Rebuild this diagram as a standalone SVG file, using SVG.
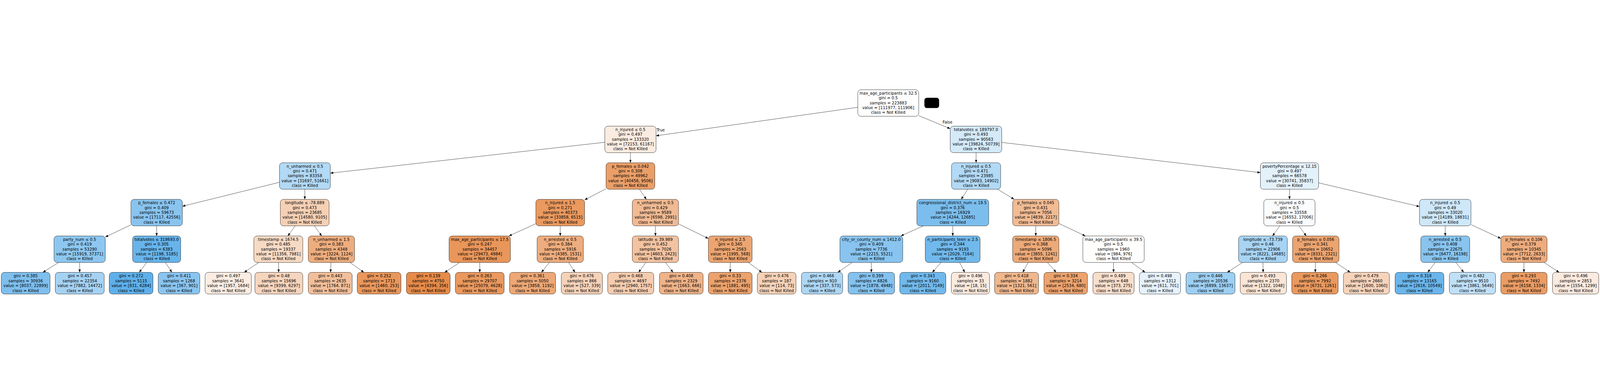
<svg xmlns="http://www.w3.org/2000/svg" width="7614" height="982" viewBox="0 0 7614 982">
<style>
svg{width:100vw;height:100vh}
.n rect{stroke:#000;stroke-width:1.33}
text{font-family:"DejaVu Sans","Liberation Sans",sans-serif;font-size:18.67px;fill:#000;text-anchor:middle}
.e path{stroke:#000;stroke-width:1.33;fill:none;marker-end:url(#ah)}
</style>
<defs>
<marker id="ah" markerUnits="userSpaceOnUse" markerWidth="14" markerHeight="11" refX="14" refY="5.5" orient="auto"><path d="M0,0 L14,5.5 L0,11 z" fill="#000"/></marker>
</defs>
<rect width="7614" height="982" fill="#fff"/>
<g id="connectors" class="e">
<path d="M4082,88.4 L3122,223.8"/>
<path d="M4372,128.1 L4522,190.2"/>
<path d="M2878,254.7 L1572,401.4"/>
<path d="M3000,304 L3000,352"/>
<path d="M4645,304 L4645,352"/>
<path d="M4767,255.3 L5998,398.8"/>
<path d="M1330,444.8 L868,558.8"/>
<path d="M1450.5,478 L1450.5,526"/>
<path d="M2884,475.4 L2782,528.6"/>
<path d="M3043.1,478 L3075.9,526"/>
<path d="M4604.8,478 L4574.2,526"/>
<path d="M4747.8,478 L4826.2,526"/>
<path d="M6136.5,478 L6136.5,526"/>
<path d="M6275,447.5 L6755,560.2"/>
<path d="M623,647.2 L501,705.1"/>
<path d="M745.5,652 L745.5,700"/>
<path d="M1404.6,652 L1369.9,700"/>
<path d="M1496,652 L1531,700"/>
<path d="M2550,641.7 L2421.7,700"/>
<path d="M2666,652 L2666,700"/>
<path d="M3119,652 L3119,700"/>
<path d="M3229,642.8 L3371,712.2"/>
<path d="M4393.7,652 L4286.8,700"/>
<path d="M4534,652 L4534,700"/>
<path d="M4929,652 L4929,700"/>
<path d="M5039,640.7 L5165,700"/>
<path d="M6090.4,652 L6055.6,700"/>
<path d="M6181.4,652 L6216.1,700"/>
<path d="M6877.5,652 L6877.5,700"/>
<path d="M7000,645.9 L7142,711.9"/>
<path d="M278.7,826 L204,873"/>
<path d="M379,826 L379,873"/>
<path d="M698.1,826 L662.7,873"/>
<path d="M787,826 L818,873"/>
<path d="M1231.5,826 L1162,873"/>
<path d="M1325.5,826 L1326,873"/>
<path d="M1574.9,826 L1573.2,873"/>
<path d="M1665.6,826 L1731.6,873"/>
<path d="M2187.4,826 L2116.1,873"/>
<path d="M2283,826 L2283,873"/>
<path d="M2614.7,826 L2576.4,873"/>
<path d="M2706.2,826 L2736.2,873"/>
<path d="M3073.2,826 L3039,873"/>
<path d="M3167,826 L3202.8,873"/>
<path d="M3475,826 L3475,873"/>
<path d="M3561.2,826 L3625.5,873"/>
<path d="M4055,826 L3986.8,873"/>
<path d="M4146.5,826 L4146.5,873"/>
<path d="M4478.1,826 L4436.8,873"/>
<path d="M4566.5,826 L4591.1,873"/>
<path d="M4893.3,826 L4866.7,873"/>
<path d="M4984.6,826 L5026.1,873"/>
<path d="M5299,826 L5299,873"/>
<path d="M5385.2,826 L5449.5,873"/>
<path d="M5912.7,826 L5840.1,873"/>
<path d="M6010,826 L6011,873"/>
<path d="M6260,826 L6259,873"/>
<path d="M6355.5,826 L6425.6,873"/>
<path d="M6829.7,826 L6794.1,873"/>
<path d="M6928,826 L6965.7,873"/>
<path d="M7252,826 L7252,873"/>
<path d="M7348,826 L7419.6,873"/>
<text x="3144" y="203">True</text>
<text x="4509" y="166">False</text>
</g>
<rect x="4399" y="43" width="70" height="49" rx="12" fill="#000"/>

<g id="n0" class="n"><rect x="4082" y="5" width="290" height="126" rx="15" fill="#ffffff"/><text x="4227" y="28"><tspan x="4227">max_age_participants ≤ 32.5</tspan><tspan x="4227" dy="23">gini = 0.5</tspan><tspan x="4227" dy="23">samples = 223883</tspan><tspan x="4227" dy="23">value = [111977, 111906]</tspan><tspan x="4227" dy="23">class = Not Killed</tspan></text></g>

<g id="n1" class="n"><rect x="2878" y="178" width="244" height="126" rx="15" fill="#fbece1"/><text x="3000" y="201"><tspan x="3000">n_injured ≤ 0.5</tspan><tspan x="3000" dy="23">gini = 0.497</tspan><tspan x="3000" dy="23">samples = 133320</tspan><tspan x="3000" dy="23">value = [72153, 61167]</tspan><tspan x="3000" dy="23">class = Not Killed</tspan></text></g>
<g id="n2" class="n"><rect x="4522" y="178" width="245" height="126" rx="15" fill="#d4eaf9"/><text x="4644.5" y="201"><tspan x="4644.5">totalvotes ≤ 189797.0</tspan><tspan x="4644.5" dy="23">gini = 0.493</tspan><tspan x="4644.5" dy="23">samples = 90563</tspan><tspan x="4644.5" dy="23">value = [39824, 50739]</tspan><tspan x="4644.5" dy="23">class = Killed</tspan></text></g>

<g id="n3" class="n"><rect x="1330" y="352" width="242" height="126" rx="15" fill="#b2d9f5"/><text x="1451" y="375"><tspan x="1451">n_unharmed ≤ 0.5</tspan><tspan x="1451" dy="23">gini = 0.471</tspan><tspan x="1451" dy="23">samples = 83358</tspan><tspan x="1451" dy="23">value = [31697, 51661]</tspan><tspan x="1451" dy="23">class = Killed</tspan></text></g>
<g id="n4" class="n"><rect x="2884" y="352" width="232" height="126" rx="15" fill="#eb9f68"/><text x="3000" y="375"><tspan x="3000">p_females ≤ 0.042</tspan><tspan x="3000" dy="23">gini = 0.308</tspan><tspan x="3000" dy="23">samples = 49962</tspan><tspan x="3000" dy="23">value = [40456, 9506]</tspan><tspan x="3000" dy="23">class = Not Killed</tspan></text></g>
<g id="n5" class="n"><rect x="4528" y="352" width="234" height="126" rx="15" fill="#b2d9f5"/><text x="4645" y="375"><tspan x="4645">n_injured ≤ 0.5</tspan><tspan x="4645" dy="23">gini = 0.471</tspan><tspan x="4645" dy="23">samples = 23985</tspan><tspan x="4645" dy="23">value = [9083, 14902]</tspan><tspan x="4645" dy="23">class = Killed</tspan></text></g>
<g id="n6" class="n"><rect x="5998" y="352" width="277" height="126" rx="15" fill="#e3f1fb"/><text x="6136.5" y="375"><tspan x="6136.5">povertyPercentage ≤ 12.15</tspan><tspan x="6136.5" dy="23">gini = 0.497</tspan><tspan x="6136.5" dy="23">samples = 66578</tspan><tspan x="6136.5" dy="23">value = [30741, 35837]</tspan><tspan x="6136.5" dy="23">class = Killed</tspan></text></g>

<g id="n7" class="n"><rect x="623" y="526" width="245" height="126" rx="15" fill="#89c4ef"/><text x="745.5" y="549"><tspan x="745.5">p_females ≤ 0.472</tspan><tspan x="745.5" dy="23">gini = 0.409</tspan><tspan x="745.5" dy="23">samples = 59673</tspan><tspan x="745.5" dy="23">value = [17117, 42556]</tspan><tspan x="745.5" dy="23">class = Killed</tspan></text></g>
<g id="n8" class="n"><rect x="1334" y="526" width="232" height="126" rx="15" fill="#f5d0b5"/><text x="1450" y="549"><tspan x="1450">longitude ≤ -78.889</tspan><tspan x="1450" dy="23">gini = 0.473</tspan><tspan x="1450" dy="23">samples = 23685</tspan><tspan x="1450" dy="23">value = [14580, 9105]</tspan><tspan x="1450" dy="23">class = Not Killed</tspan></text></g>
<g id="n9" class="n"><rect x="2550" y="526" width="232" height="126" rx="15" fill="#ea995f"/><text x="2666" y="549"><tspan x="2666">n_injured ≤ 1.5</tspan><tspan x="2666" dy="23">gini = 0.271</tspan><tspan x="2666" dy="23">samples = 40373</tspan><tspan x="2666" dy="23">value = [33858, 6515]</tspan><tspan x="2666" dy="23">class = Not Killed</tspan></text></g>
<g id="n10" class="n"><rect x="3009" y="526" width="220" height="126" rx="15" fill="#f1ba93"/><text x="3119" y="549"><tspan x="3119">n_unharmed ≤ 0.5</tspan><tspan x="3119" dy="23">gini = 0.429</tspan><tspan x="3119" dy="23">samples = 9589</tspan><tspan x="3119" dy="23">value = [6598, 2991]</tspan><tspan x="3119" dy="23">class = Not Killed</tspan></text></g>
<g id="n11" class="n"><rect x="4363" y="526" width="342" height="126" rx="15" fill="#7bbeee"/><text x="4534" y="549"><tspan x="4534">congressional_district_num ≤ 19.5</tspan><tspan x="4534" dy="23">gini = 0.376</tspan><tspan x="4534" dy="23">samples = 16929</tspan><tspan x="4534" dy="23">value = [4244, 12685]</tspan><tspan x="4534" dy="23">class = Killed</tspan></text></g>
<g id="n12" class="n"><rect x="4819" y="526" width="220" height="126" rx="15" fill="#f1bb94"/><text x="4929" y="549"><tspan x="4929">p_females ≤ 0.045</tspan><tspan x="4929" dy="23">gini = 0.431</tspan><tspan x="4929" dy="23">samples = 7056</tspan><tspan x="4929" dy="23">value = [4839, 2217]</tspan><tspan x="4929" dy="23">class = Not Killed</tspan></text></g>
<g id="n13" class="n"><rect x="6014" y="526" width="244" height="126" rx="15" fill="#fafcfe"/><text x="6136" y="549"><tspan x="6136">n_injured ≤ 0.5</tspan><tspan x="6136" dy="23">gini = 0.5</tspan><tspan x="6136" dy="23">samples = 33558</tspan><tspan x="6136" dy="23">value = [16552, 17006]</tspan><tspan x="6136" dy="23">class = Killed</tspan></text></g>
<g id="n14" class="n"><rect x="6755" y="526" width="245" height="126" rx="15" fill="#cee7f9"/><text x="6877.5" y="549"><tspan x="6877.5">n_injured ≤ 0.5</tspan><tspan x="6877.5" dy="23">gini = 0.49</tspan><tspan x="6877.5" dy="23">samples = 33020</tspan><tspan x="6877.5" dy="23">value = [14189, 18831]</tspan><tspan x="6877.5" dy="23">class = Killed</tspan></text></g>

<g id="n15" class="n"><rect x="257" y="700" width="244" height="126" rx="15" fill="#8dc7f0"/><text x="379" y="723"><tspan x="379">party_num ≤ 0.5</tspan><tspan x="379" dy="23">gini = 0.419</tspan><tspan x="379" dy="23">samples = 53290</tspan><tspan x="379" dy="23">value = [15919, 37371]</tspan><tspan x="379" dy="23">class = Killed</tspan></text></g>
<g id="n16" class="n"><rect x="631" y="700" width="229" height="126" rx="15" fill="#67b4eb"/><text x="745.5" y="723"><tspan x="745.5">totalvotes ≤ 318693.0</tspan><tspan x="745.5" dy="23">gini = 0.305</tspan><tspan x="745.5" dy="23">samples = 6383</tspan><tspan x="745.5" dy="23">value = [1198, 5185]</tspan><tspan x="745.5" dy="23">class = Killed</tspan></text></g>
<g id="n17" class="n"><rect x="1208" y="700" width="233" height="126" rx="15" fill="#f7dac4"/><text x="1324.5" y="723"><tspan x="1324.5">timestamp ≤ 1674.5</tspan><tspan x="1324.5" dy="23">gini = 0.485</tspan><tspan x="1324.5" dy="23">samples = 19337</tspan><tspan x="1324.5" dy="23">value = [11356, 7981]</tspan><tspan x="1324.5" dy="23">class = Not Killed</tspan></text></g>
<g id="n18" class="n"><rect x="1467" y="700" width="220" height="126" rx="15" fill="#eead7e"/><text x="1577" y="723"><tspan x="1577">n_unharmed ≤ 1.5</tspan><tspan x="1577" dy="23">gini = 0.383</tspan><tspan x="1577" dy="23">samples = 4348</tspan><tspan x="1577" dy="23">value = [3224, 1124]</tspan><tspan x="1577" dy="23">class = Not Killed</tspan></text></g>
<g id="n19" class="n"><rect x="2137" y="700" width="292" height="126" rx="15" fill="#e9965a"/><text x="2283" y="723"><tspan x="2283">max_age_participants ≤ 17.5</tspan><tspan x="2283" dy="23">gini = 0.247</tspan><tspan x="2283" dy="23">samples = 34457</tspan><tspan x="2283" dy="23">value = [29473, 4984]</tspan><tspan x="2283" dy="23">class = Not Killed</tspan></text></g>
<g id="n20" class="n"><rect x="2556" y="700" width="220" height="126" rx="15" fill="#eead7e"/><text x="2666" y="723"><tspan x="2666">n_arrested ≤ 0.5</tspan><tspan x="2666" dy="23">gini = 0.384</tspan><tspan x="2666" dy="23">samples = 5916</tspan><tspan x="2666" dy="23">value = [4385, 1531]</tspan><tspan x="2666" dy="23">class = Not Killed</tspan></text></g>
<g id="n21" class="n"><rect x="3009" y="700" width="220" height="126" rx="15" fill="#f3c3a1"/><text x="3119" y="723"><tspan x="3119">latitude ≤ 39.989</tspan><tspan x="3119" dy="23">gini = 0.452</tspan><tspan x="3119" dy="23">samples = 7026</tspan><tspan x="3119" dy="23">value = [4603, 2423]</tspan><tspan x="3119" dy="23">class = Not Killed</tspan></text></g>
<g id="n22" class="n"><rect x="3371" y="700" width="208" height="126" rx="15" fill="#eca571"/><text x="3475" y="723"><tspan x="3475">n_injured ≤ 2.5</tspan><tspan x="3475" dy="23">gini = 0.345</tspan><tspan x="3475" dy="23">samples = 2563</tspan><tspan x="3475" dy="23">value = [1995, 568]</tspan><tspan x="3475" dy="23">class = Not Killed</tspan></text></g>
<g id="n23" class="n"><rect x="3997" y="700" width="299" height="126" rx="15" fill="#88c4ef"/><text x="4146.5" y="723"><tspan x="4146.5">city_or_county_num ≤ 1412.0</tspan><tspan x="4146.5" dy="23">gini = 0.409</tspan><tspan x="4146.5" dy="23">samples = 7736</tspan><tspan x="4146.5" dy="23">value = [2215, 5521]</tspan><tspan x="4146.5" dy="23">class = Killed</tspan></text></g>
<g id="n24" class="n"><rect x="4403" y="700" width="261" height="126" rx="15" fill="#71b9ec"/><text x="4533.5" y="723"><tspan x="4533.5">n_participants_teen ≤ 2.5</tspan><tspan x="4533.5" dy="23">gini = 0.344</tspan><tspan x="4533.5" dy="23">samples = 9193</tspan><tspan x="4533.5" dy="23">value = [2029, 7164]</tspan><tspan x="4533.5" dy="23">class = Killed</tspan></text></g>
<g id="n25" class="n"><rect x="4819" y="700" width="220" height="126" rx="15" fill="#edaa79"/><text x="4929" y="723"><tspan x="4929">timestamp ≤ 1806.5</tspan><tspan x="4929" dy="23">gini = 0.368</tspan><tspan x="4929" dy="23">samples = 5096</tspan><tspan x="4929" dy="23">value = [3855, 1241]</tspan><tspan x="4929" dy="23">class = Not Killed</tspan></text></g>
<g id="n26" class="n"><rect x="5153" y="700" width="292" height="126" rx="15" fill="#fffefd"/><text x="5299" y="723"><tspan x="5299">max_age_participants ≤ 39.5</tspan><tspan x="5299" dy="23">gini = 0.5</tspan><tspan x="5299" dy="23">samples = 1960</tspan><tspan x="5299" dy="23">value = [984, 976]</tspan><tspan x="5299" dy="23">class = Not Killed</tspan></text></g>
<g id="n27" class="n"><rect x="5894" y="700" width="232" height="126" rx="15" fill="#a8d4f4"/><text x="6010" y="723"><tspan x="6010">longitude ≤ -73.739</tspan><tspan x="6010" dy="23">gini = 0.46</tspan><tspan x="6010" dy="23">samples = 22906</tspan><tspan x="6010" dy="23">value = [8221, 14685]</tspan><tspan x="6010" dy="23">class = Killed</tspan></text></g>
<g id="n28" class="n"><rect x="6151" y="700" width="221" height="126" rx="15" fill="#eca470"/><text x="6261.5" y="723"><tspan x="6261.5">p_females ≤ 0.056</tspan><tspan x="6261.5" dy="23">gini = 0.341</tspan><tspan x="6261.5" dy="23">samples = 10652</tspan><tspan x="6261.5" dy="23">value = [8331, 2321]</tspan><tspan x="6261.5" dy="23">class = Not Killed</tspan></text></g>
<g id="n29" class="n"><rect x="6761" y="700" width="233" height="126" rx="15" fill="#88c4ef"/><text x="6877.5" y="723"><tspan x="6877.5">n_arrested ≤ 0.5</tspan><tspan x="6877.5" dy="23">gini = 0.408</tspan><tspan x="6877.5" dy="23">samples = 22675</tspan><tspan x="6877.5" dy="23">value = [6477, 16198]</tspan><tspan x="6877.5" dy="23">class = Killed</tspan></text></g>
<g id="n30" class="n"><rect x="7142" y="700" width="220" height="126" rx="15" fill="#eeac7d"/><text x="7252" y="723"><tspan x="7252">p_females ≤ 0.106</tspan><tspan x="7252" dy="23">gini = 0.379</tspan><tspan x="7252" dy="23">samples = 10345</tspan><tspan x="7252" dy="23">value = [7712, 2633]</tspan><tspan x="7252" dy="23">class = Not Killed</tspan></text></g>

<g id="leaf1" class="n"><rect x="6" y="873" width="232" height="103" rx="15" fill="#7ebfee"/><text x="122" y="897"><tspan x="122">gini = 0.385</tspan><tspan x="122" dy="23">samples = 30936</tspan><tspan x="122" dy="23">value = [8037, 22899]</tspan><tspan x="122" dy="23">class = Killed</tspan></text></g>
<g id="leaf2" class="n"><rect x="263" y="873" width="233" height="103" rx="15" fill="#a5d2f3"/><text x="379.5" y="897"><tspan x="379.5">gini = 0.457</tspan><tspan x="379.5" dy="23">samples = 22354</tspan><tspan x="379.5" dy="23">value = [7882, 14472]</tspan><tspan x="379.5" dy="23">class = Killed</tspan></text></g>
<g id="leaf3" class="n"><rect x="520" y="873" width="208" height="103" rx="15" fill="#5fb0ea"/><text x="624" y="897"><tspan x="624">gini = 0.272</tspan><tspan x="624" dy="23">samples = 5115</tspan><tspan x="624" dy="23">value = [831, 4284]</tspan><tspan x="624" dy="23">class = Killed</tspan></text></g>
<g id="leaf4" class="n"><rect x="753" y="873" width="198" height="103" rx="15" fill="#8ac5f0"/><text x="852" y="897"><tspan x="852">gini = 0.411</tspan><tspan x="852" dy="23">samples = 1268</tspan><tspan x="852" dy="23">value = [367, 901]</tspan><tspan x="852" dy="23">class = Killed</tspan></text></g>
<g id="leaf5" class="n"><rect x="976" y="873" width="220" height="103" rx="15" fill="#fbede3"/><text x="1086" y="897"><tspan x="1086">gini = 0.497</tspan><tspan x="1086" dy="23">samples = 3641</tspan><tspan x="1086" dy="23">value = [1957, 1684]</tspan><tspan x="1086" dy="23">class = Not Killed</tspan></text></g>
<g id="leaf6" class="n"><rect x="1213" y="873" width="228" height="103" rx="15" fill="#f6d5be"/><text x="1327" y="897"><tspan x="1327">gini = 0.48</tspan><tspan x="1327" dy="23">samples = 15696</tspan><tspan x="1327" dy="23">value = [9399, 6297]</tspan><tspan x="1327" dy="23">class = Not Killed</tspan></text></g>
<g id="leaf7" class="n"><rect x="1467" y="873" width="209" height="103" rx="15" fill="#f2bf9b"/><text x="1571.5" y="897"><tspan x="1571.5">gini = 0.443</tspan><tspan x="1571.5" dy="23">samples = 2635</tspan><tspan x="1571.5" dy="23">value = [1764, 871]</tspan><tspan x="1571.5" dy="23">class = Not Killed</tspan></text></g>
<g id="leaf8" class="n"><rect x="1700" y="873" width="208" height="103" rx="15" fill="#ea975b"/><text x="1804" y="897"><tspan x="1804">gini = 0.252</tspan><tspan x="1804" dy="23">samples = 1713</tspan><tspan x="1804" dy="23">value = [1460, 253]</tspan><tspan x="1804" dy="23">class = Not Killed</tspan></text></g>
<g id="leaf9" class="n"><rect x="1934" y="873" width="208" height="103" rx="15" fill="#e78b49"/><text x="2038" y="897"><tspan x="2038">gini = 0.139</tspan><tspan x="2038" dy="23">samples = 4750</tspan><tspan x="2038" dy="23">value = [4394, 356]</tspan><tspan x="2038" dy="23">class = Not Killed</tspan></text></g>
<g id="leaf10" class="n"><rect x="2167" y="873" width="232" height="103" rx="15" fill="#ea985e"/><text x="2283" y="897"><tspan x="2283">gini = 0.263</tspan><tspan x="2283" dy="23">samples = 29707</tspan><tspan x="2283" dy="23">value = [25079, 4628]</tspan><tspan x="2283" dy="23">class = Not Killed</tspan></text></g>
<g id="leaf11" class="n"><rect x="2425" y="873" width="219" height="103" rx="15" fill="#eda876"/><text x="2534.5" y="897"><tspan x="2534.5">gini = 0.361</tspan><tspan x="2534.5" dy="23">samples = 5050</tspan><tspan x="2534.5" dy="23">value = [3858, 1192]</tspan><tspan x="2534.5" dy="23">class = Not Killed</tspan></text></g>
<g id="leaf12" class="n"><rect x="2671" y="873" width="196" height="103" rx="15" fill="#f6d2b8"/><text x="2769" y="897"><tspan x="2769">gini = 0.476</tspan><tspan x="2769" dy="23">samples = 866</tspan><tspan x="2769" dy="23">value = [527, 339]</tspan><tspan x="2769" dy="23">class = Not Killed</tspan></text></g>
<g id="leaf13" class="n"><rect x="2892" y="873" width="219" height="103" rx="15" fill="#f5ccaf"/><text x="3001.5" y="897"><tspan x="3001.5">gini = 0.468</tspan><tspan x="3001.5" dy="23">samples = 4697</tspan><tspan x="3001.5" dy="23">value = [2940, 1757]</tspan><tspan x="3001.5" dy="23">class = Not Killed</tspan></text></g>
<g id="leaf14" class="n"><rect x="3138" y="873" width="208" height="103" rx="15" fill="#efb388"/><text x="3242" y="897"><tspan x="3242">gini = 0.408</tspan><tspan x="3242" dy="23">samples = 2329</tspan><tspan x="3242" dy="23">value = [1663, 666]</tspan><tspan x="3242" dy="23">class = Not Killed</tspan></text></g>
<g id="leaf15" class="n"><rect x="3371" y="873" width="208" height="103" rx="15" fill="#eca26d"/><text x="3475" y="897"><tspan x="3475">gini = 0.33</tspan><tspan x="3475" dy="23">samples = 2376</tspan><tspan x="3475" dy="23">value = [1881, 495]</tspan><tspan x="3475" dy="23">class = Not Killed</tspan></text></g>
<g id="leaf16" class="n"><rect x="3604" y="873" width="184" height="103" rx="15" fill="#f6d2b8"/><text x="3696" y="897"><tspan x="3696">gini = 0.476</tspan><tspan x="3696" dy="23">samples = 187</tspan><tspan x="3696" dy="23">value = [114, 73]</tspan><tspan x="3696" dy="23">class = Not Killed</tspan></text></g>
<g id="leaf17" class="n"><rect x="3814" y="873" width="196" height="103" rx="15" fill="#add7f4"/><text x="3912" y="897"><tspan x="3912">gini = 0.466</tspan><tspan x="3912" dy="23">samples = 910</tspan><tspan x="3912" dy="23">value = [337, 573]</tspan><tspan x="3912" dy="23">class = Killed</tspan></text></g>
<g id="leaf18" class="n"><rect x="4036" y="873" width="221" height="103" rx="15" fill="#84c2ef"/><text x="4146.5" y="897"><tspan x="4146.5">gini = 0.399</tspan><tspan x="4146.5" dy="23">samples = 6826</tspan><tspan x="4146.5" dy="23">value = [1878, 4948]</tspan><tspan x="4146.5" dy="23">class = Killed</tspan></text></g>
<g id="leaf19" class="n"><rect x="4282" y="873" width="219" height="103" rx="15" fill="#71b9ec"/><text x="4391.5" y="897"><tspan x="4391.5">gini = 0.343</tspan><tspan x="4391.5" dy="23">samples = 9160</tspan><tspan x="4391.5" dy="23">value = [2011, 7149]</tspan><tspan x="4391.5" dy="23">class = Killed</tspan></text></g>
<g id="leaf20" class="n"><rect x="4527" y="873" width="182" height="103" rx="15" fill="#fbeade"/><text x="4618" y="897"><tspan x="4618">gini = 0.496</tspan><tspan x="4618" dy="23">samples = 33</tspan><tspan x="4618" dy="23">value = [18, 15]</tspan><tspan x="4618" dy="23">class = Not Killed</tspan></text></g>
<g id="leaf21" class="n"><rect x="4733" y="873" width="209" height="103" rx="15" fill="#f0b78d"/><text x="4837.5" y="897"><tspan x="4837.5">gini = 0.418</tspan><tspan x="4837.5" dy="23">samples = 1882</tspan><tspan x="4837.5" dy="23">value = [1321, 561]</tspan><tspan x="4837.5" dy="23">class = Not Killed</tspan></text></g>
<g id="leaf22" class="n"><rect x="4968" y="873" width="207" height="103" rx="15" fill="#eca36e"/><text x="5071.5" y="897"><tspan x="5071.5">gini = 0.334</tspan><tspan x="5071.5" dy="23">samples = 3214</tspan><tspan x="5071.5" dy="23">value = [2534, 680]</tspan><tspan x="5071.5" dy="23">class = Not Killed</tspan></text></g>
<g id="leaf23" class="n"><rect x="5201" y="873" width="196" height="103" rx="15" fill="#f8decb"/><text x="5299" y="897"><tspan x="5299">gini = 0.489</tspan><tspan x="5299" dy="23">samples = 648</tspan><tspan x="5299" dy="23">value = [373, 275]</tspan><tspan x="5299" dy="23">class = Not Killed</tspan></text></g>
<g id="leaf24" class="n"><rect x="5422" y="873" width="196" height="103" rx="15" fill="#e6f2fc"/><text x="5520" y="897"><tspan x="5520">gini = 0.498</tspan><tspan x="5520" dy="23">samples = 1312</tspan><tspan x="5520" dy="23">value = [611, 701]</tspan><tspan x="5520" dy="23">class = Killed</tspan></text></g>
<g id="leaf25" class="n"><rect x="5644" y="873" width="233" height="103" rx="15" fill="#9dcff2"/><text x="5760.5" y="897"><tspan x="5760.5">gini = 0.446</tspan><tspan x="5760.5" dy="23">samples = 20536</tspan><tspan x="5760.5" dy="23">value = [6899, 13637]</tspan><tspan x="5760.5" dy="23">class = Killed</tspan></text></g>
<g id="leaf26" class="n"><rect x="5902" y="873" width="220" height="103" rx="15" fill="#fae5d6"/><text x="6012" y="897"><tspan x="6012">gini = 0.493</tspan><tspan x="6012" dy="23">samples = 2370</tspan><tspan x="6012" dy="23">value = [1322, 1048]</tspan><tspan x="6012" dy="23">class = Not Killed</tspan></text></g>
<g id="leaf27" class="n"><rect x="6147" y="873" width="221" height="103" rx="15" fill="#ea995e"/><text x="6257.5" y="897"><tspan x="6257.5">gini = 0.266</tspan><tspan x="6257.5" dy="23">samples = 7992</tspan><tspan x="6257.5" dy="23">value = [6731, 1261]</tspan><tspan x="6257.5" dy="23">class = Not Killed</tspan></text></g>
<g id="leaf28" class="n"><rect x="6393" y="873" width="219" height="103" rx="15" fill="#f6d4bc"/><text x="6502.5" y="897"><tspan x="6502.5">gini = 0.479</tspan><tspan x="6502.5" dy="23">samples = 2660</tspan><tspan x="6502.5" dy="23">value = [1600, 1060]</tspan><tspan x="6502.5" dy="23">class = Not Killed</tspan></text></g>
<g id="leaf29" class="n"><rect x="6639" y="873" width="232" height="103" rx="15" fill="#6ab5eb"/><text x="6755" y="897"><tspan x="6755">gini = 0.318</tspan><tspan x="6755" dy="23">samples = 13165</tspan><tspan x="6755" dy="23">value = [2616, 10549]</tspan><tspan x="6755" dy="23">class = Killed</tspan></text></g>
<g id="leaf30" class="n"><rect x="6897" y="873" width="220" height="103" rx="15" fill="#c0e0f7"/><text x="7007" y="897"><tspan x="7007">gini = 0.482</tspan><tspan x="7007" dy="23">samples = 9510</tspan><tspan x="7007" dy="23">value = [3861, 5649]</tspan><tspan x="7007" dy="23">class = Killed</tspan></text></g>
<g id="leaf31" class="n"><rect x="7142" y="873" width="220" height="103" rx="15" fill="#eb9c64"/><text x="7252" y="897"><tspan x="7252">gini = 0.293</tspan><tspan x="7252" dy="23">samples = 7492</tspan><tspan x="7252" dy="23">value = [6158, 1334]</tspan><tspan x="7252" dy="23">class = Not Killed</tspan></text></g>
<g id="leaf32" class="n"><rect x="7388" y="873" width="220" height="103" rx="15" fill="#fbeadf"/><text x="7498" y="897"><tspan x="7498">gini = 0.496</tspan><tspan x="7498" dy="23">samples = 2853</tspan><tspan x="7498" dy="23">value = [1554, 1299]</tspan><tspan x="7498" dy="23">class = Not Killed</tspan></text></g>
</svg>
